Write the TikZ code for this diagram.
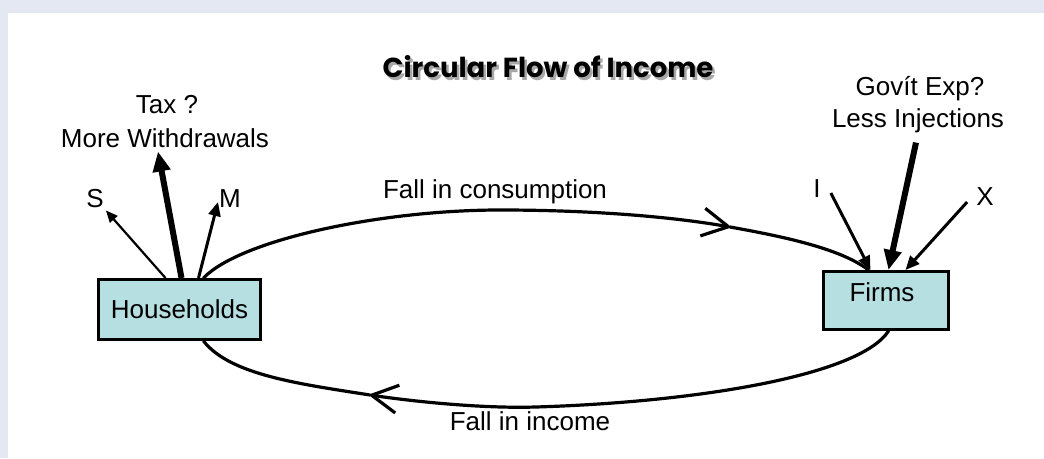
\documentclass[tikz,border=0pt]{standalone}
\usepackage{fontspec}
\setmainfont{Liberation Sans}
\newfontfamily\titlefont{Poppins}
\usetikzlibrary{arrows.meta,calc}
\definecolor{bandblue}{HTML}{E3E8F2}
\definecolor{boxfill}{HTML}{B6DFE1}
\definecolor{shadowgray}{HTML}{A8A8A8}
\begin{document}
\begin{tikzpicture}[x=1pt,y=-1pt,
  lbl/.style={font=\fontsize{26}{31}\selectfont, inner sep=0pt},
  sector/.style={draw=black, line width=3pt, fill=boxfill, inner sep=0pt, font=\fontsize{26}{31}\selectfont},
  flow/.style={line width=3.2pt, line cap=round, line join=round},
  barb/.style={-{Straight Barb[length=26pt,width=28pt,line join=round]}},
  thinarrow/.style={line width=2.2pt, -{Triangle[length=12pt,width=10pt]}},
  midarrow/.style={line width=3pt, -{Triangle[length=14pt,width=12pt]}},
  thickarrow/.style={line width=6pt, -{Triangle[length=20pt,width=17pt]}},
  titlestyle/.style={font=\titlefont\bfseries\fontsize{27.5}{32}\selectfont, inner sep=0pt}
]
\useasboundingbox (0,0) rectangle (1044,458);
\fill[bandblue] (0,0) rectangle (1044,458);
\fill[white] (8,13) rectangle (1044,458);

% title
\node[titlestyle, text=shadowgray] (titleshadow) at (550.5,69.5) {Circular Flow of Income};
\node[titlestyle] (title) at (548,67) {Circular Flow of Income};

% sectors
\node[sector, minimum width=162pt, minimum height=60pt] (hh) at (179.5,309.5) {Households};
\node[sector, minimum width=125pt, minimum height=58pt] (firms) at (886,300.5) {};
\node[lbl] (firmstext) at ($(firms.center)+(-4,-8.5)$) {Firms};

% labels
\node[lbl, anchor=base] (tax) at (167,113) {Tax ?};
\node[lbl, anchor=base] (withdraw) at (165,147) {More Withdrawals};
\node[lbl, anchor=base] (govt) at (920,95) {Govít Exp?};
\node[lbl, anchor=base] (inject) at (918,127) {Less Injections};
\node[lbl] (s) at (95,199) {S};
\node[lbl] (m) at (230,199) {M};
\node[lbl] (i) at (817,189) {I};
\node[lbl] (x) at (985,197) {X};
\node[lbl, anchor=base] (cons) at (495,198) {Fall in consumption};
\node[lbl, anchor=base] (inc) at (530,430) {Fall in income};

% withdrawals
\draw[thinarrow] ($(hh.north west)+(68.5,0)$) -- ($(s.south east)+(2,2)$);
\draw[thickarrow] ($(hh.north west)+(84.5,0)$) -- ($(withdraw.south)+(-7,4)$);
\draw[midarrow] ($(hh.north west)+(101.5,0)$) -- ($(m.west)+(-1,3)$);

% injections
\draw[midarrow] ($(i.east)+(10,4)$) -- ($(firms.north west)+(48.5,0)$);
\draw[thickarrow] ($(inject.south)+(-2,10)$) -- ($(firms.north west)+(66.5,0)$);
\draw[midarrow] ($(x.west)+(-9,5)$) -- ($(firms.north west)+(83.5,0)$);

% circular flow
\coordinate (cs) at ($(hh.north west)+(106.5,0)$);
\coordinate (ca) at (730,227);
\coordinate (ce) at ($(firms.north west)+(46.5,0)$);
\draw[flow, barb] (cs) .. controls (240,240) and (380,210) .. (500,210)
  .. controls (600,210) and (680,218) .. (ca);
\draw[flow] (ca) .. controls (780,236) and (840,248) .. (ce);

\coordinate (fb) at ($(firms.south west)+(66.5,0)$);
\coordinate (la) at (370,395);
\coordinate (hb) at ($(hh.south west)+(106.5,0)$);
\draw[flow, barb] (fb) .. controls (860,375) and (700,402) .. (536,407)
  .. controls (480,408.7) and (410,401) .. (la);
\draw[flow] (la) .. controls (300,384) and (230,375) .. (hb);
\end{tikzpicture}
\end{document}
